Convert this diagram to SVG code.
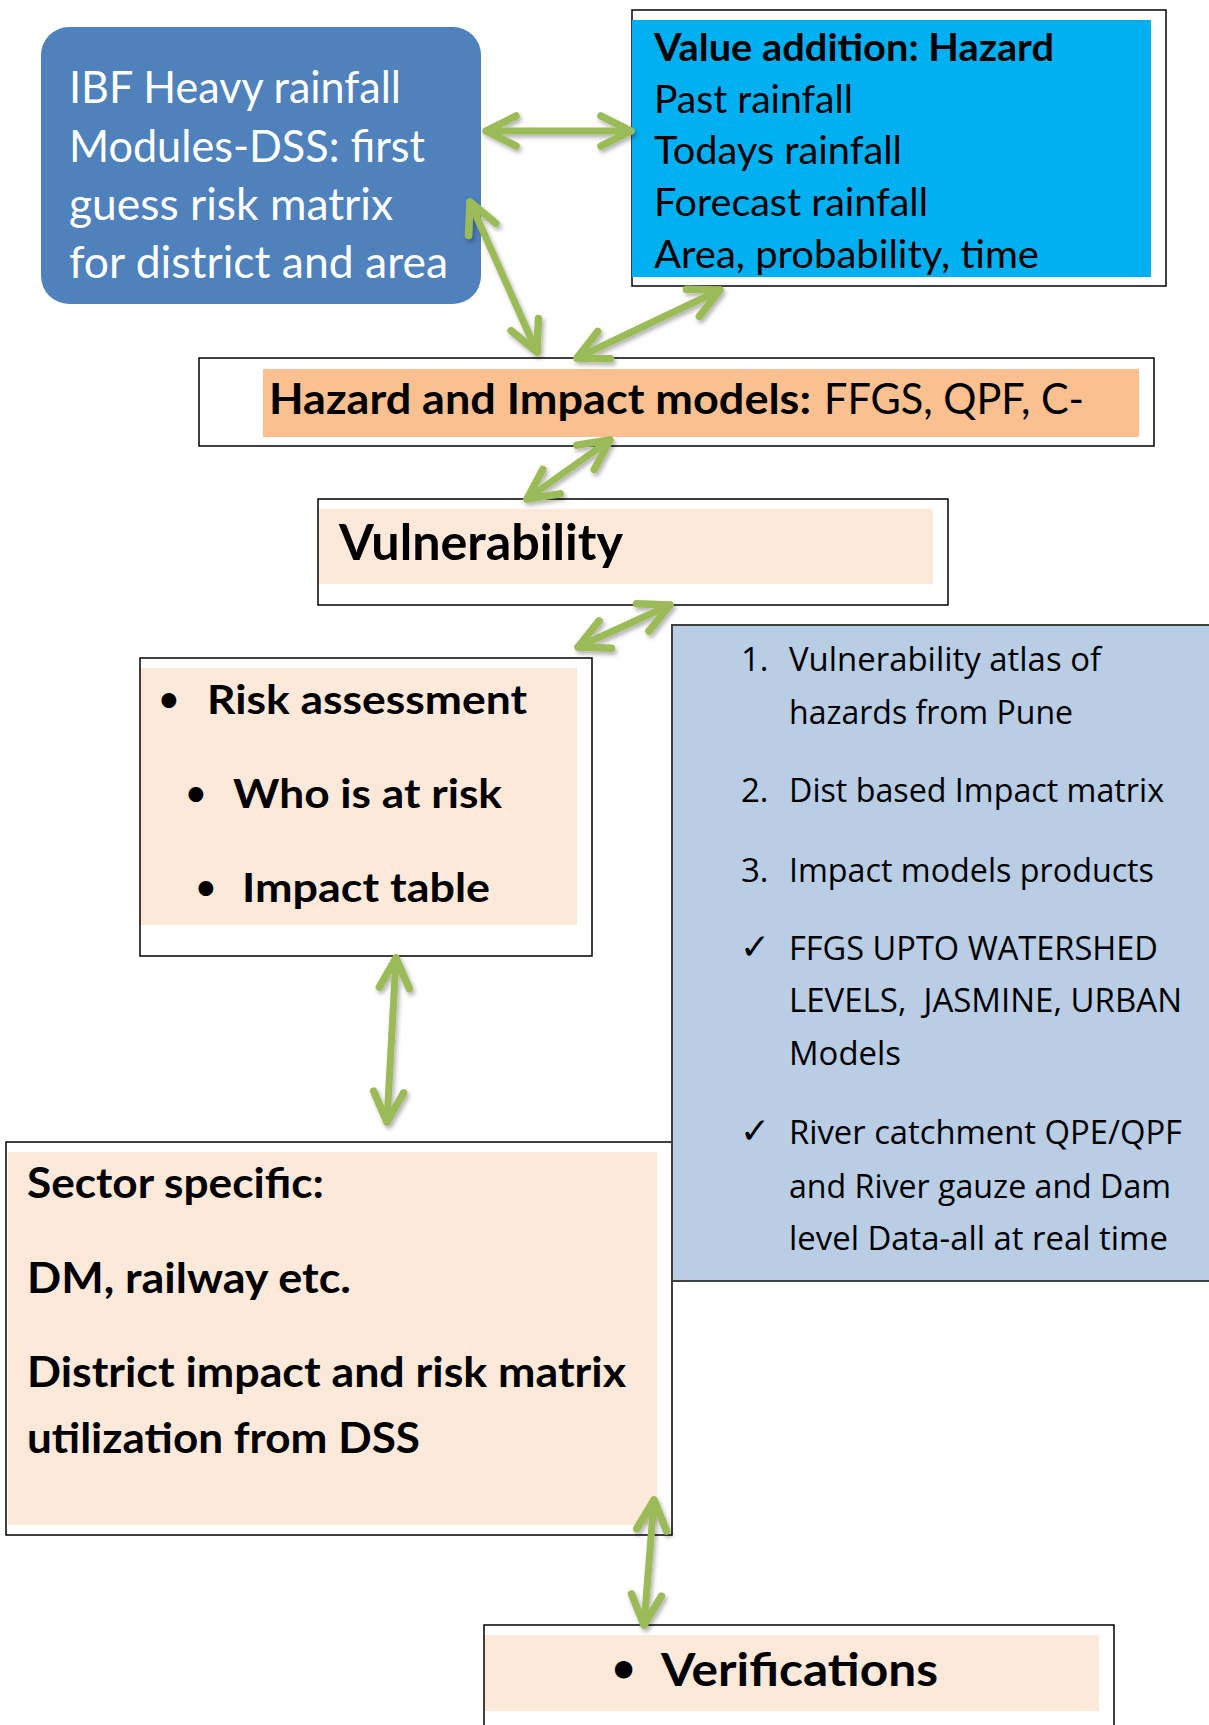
<svg xmlns="http://www.w3.org/2000/svg" width="1209" height="1725" viewBox="0 0 1209 1725">
<style>
.w{font-family:Lato,"Liberation Sans",sans-serif;fill:#fff}
.k{font-family:Lato,"Liberation Sans",sans-serif;fill:#000}
.b{font-weight:bold}
.p{font-family:"Open Sans","Liberation Sans",sans-serif;fill:#000;font-size:33px}
.chk{font-family:"DejaVu Sans",sans-serif;fill:#000;font-size:36px}
.box{fill:#fff;stroke:#000;stroke-width:1.5}
.peach{fill:#FDE9D9}
.conn{stroke:#9BBB59;stroke-width:7;fill:none;stroke-linecap:round;marker-start:url(#head);marker-end:url(#head)}
</style>
<defs>
<marker id="head" orient="auto-start-reverse" markerUnits="userSpaceOnUse" viewBox="-40 -20 44 40" markerWidth="44" markerHeight="40" refX="0" refY="0" overflow="visible">
<path d="M -30 -15 L 0 0 L -30 15" fill="none" stroke="#9BBB59" stroke-width="7.5" stroke-linecap="round" stroke-linejoin="round"/>
</marker>
<filter id="sh" x="-20%" y="-20%" width="140%" height="140%">
<feDropShadow dx="2" dy="3" stdDeviation="2" flood-color="#000" flood-opacity="0.3"/>
</filter>
</defs>
<rect width="1209" height="1725" fill="#fff"/>

<g id="ibf">
<rect x="41" y="27" width="440" height="277" rx="28" ry="28" fill="#4F81BD"/>
<text class="w" font-size="44" x="69" y="103" textLength="332" lengthAdjust="spacingAndGlyphs">IBF Heavy rainfall</text>
<text class="w" font-size="44" x="69" y="162" textLength="356" lengthAdjust="spacingAndGlyphs">Modules-DSS: first</text>
<text class="w" font-size="44" x="69" y="220" textLength="324" lengthAdjust="spacingAndGlyphs">guess risk matrix</text>
<text class="w" font-size="44" x="69" y="278" textLength="379" lengthAdjust="spacingAndGlyphs">for district and area</text>
</g>

<g id="value-addition">
<rect class="box" x="632" y="10" width="534" height="276"/>
<rect x="632" y="20" width="519" height="257" fill="#00B0F0"/>
<text class="k b" font-size="38" x="654" y="61" textLength="400" lengthAdjust="spacingAndGlyphs">Value addition: Hazard</text>
<text class="k" font-size="38" x="654" y="113" textLength="199" lengthAdjust="spacingAndGlyphs">Past rainfall</text>
<text class="k" font-size="38" x="654" y="164" textLength="248" lengthAdjust="spacingAndGlyphs">Todays rainfall</text>
<text class="k" font-size="38" x="654" y="216" textLength="274" lengthAdjust="spacingAndGlyphs">Forecast rainfall</text>
<text class="k" font-size="38" x="654" y="268" textLength="385" lengthAdjust="spacingAndGlyphs">Area, probability, time</text>
</g>

<g id="hazard-models">
<rect class="box" x="199" y="358" width="955" height="88"/>
<rect x="263" y="369" width="876" height="68" fill="#FAC090"/>
<text class="k b" font-size="42" x="269" y="414" textLength="542" lengthAdjust="spacingAndGlyphs">Hazard and Impact models:</text>
<text class="k" font-size="42" x="824" y="414" textLength="260" lengthAdjust="spacingAndGlyphs">FFGS, QPF, C-</text>
</g>

<g id="vulnerability">
<rect class="box" x="318" y="499" width="630" height="106"/>
<rect class="peach" x="319" y="509" width="614" height="75"/>
<text class="k b" font-size="49" x="339" y="560" textLength="284" lengthAdjust="spacingAndGlyphs">Vulnerability</text>
</g>

<g id="risk">
<rect class="box" x="140" y="658" width="452" height="298"/>
<rect class="peach" x="141" y="668" width="436" height="257"/>
<text class="k b" font-size="34" x="159" y="711">•</text>
<text class="k b" font-size="40" x="207" y="714" textLength="320" lengthAdjust="spacingAndGlyphs">Risk assessment</text>
<text class="k b" font-size="34" x="186" y="805">•</text>
<text class="k b" font-size="40" x="233" y="808" textLength="269" lengthAdjust="spacingAndGlyphs">Who is at risk</text>
<text class="k b" font-size="34" x="196" y="899">•</text>
<text class="k b" font-size="40" x="242" y="902" textLength="248" lengthAdjust="spacingAndGlyphs">Impact table</text>
</g>

<g id="sector">
<rect class="box" x="6" y="1142" width="666" height="393"/>
<rect class="peach" x="8" y="1152" width="649" height="373"/>
<text class="k b" font-size="42" x="27" y="1198" textLength="297" lengthAdjust="spacingAndGlyphs">Sector specific:</text>
<text class="k b" font-size="42" x="27" y="1293" textLength="324" lengthAdjust="spacingAndGlyphs">DM, railway etc.</text>
<text class="k b" font-size="42" x="27" y="1387" textLength="599" lengthAdjust="spacingAndGlyphs">District impact and risk matrix</text>
<text class="k b" font-size="42" x="27" y="1453" textLength="393" lengthAdjust="spacingAndGlyphs">utilization from DSS</text>
</g>

<g id="products">
<rect x="672" y="625" width="540" height="656" fill="#B9CDE5" stroke="#404040" stroke-width="2"/>
<text class="p" x="741" y="671">1.</text>
<text class="p" x="789" y="671" textLength="312" lengthAdjust="spacingAndGlyphs">Vulnerability atlas of</text>
<text class="p" x="789" y="724" textLength="284" lengthAdjust="spacingAndGlyphs">hazards from Pune</text>
<text class="p" x="741" y="802">2.</text>
<text class="p" x="789" y="802" textLength="375" lengthAdjust="spacingAndGlyphs">Dist based Impact matrix</text>
<text class="p" x="741" y="882">3.</text>
<text class="p" x="789" y="882" textLength="365" lengthAdjust="spacingAndGlyphs">Impact models products</text>
<text class="chk" x="740" y="959">✓</text>
<text class="p" x="789" y="960" textLength="369" lengthAdjust="spacingAndGlyphs">FFGS UPTO WATERSHED</text>
<text class="p" x="789" y="1012" textLength="393" lengthAdjust="spacingAndGlyphs">LEVELS,&#160; JASMINE, URBAN</text>
<text class="p" x="789" y="1065" textLength="112" lengthAdjust="spacingAndGlyphs">Models</text>
<text class="chk" x="740" y="1143">✓</text>
<text class="p" x="789" y="1144" textLength="393" lengthAdjust="spacingAndGlyphs">River catchment QPE/QPF</text>
<text class="p" x="789" y="1198" textLength="382" lengthAdjust="spacingAndGlyphs">and River gauze and Dam</text>
<text class="p" x="789" y="1250" textLength="379" lengthAdjust="spacingAndGlyphs">level Data-all at real time</text>
</g>

<g id="verifications">
<rect class="box" x="484" y="1625" width="630" height="120"/>
<rect class="peach" x="485" y="1635" width="614" height="76"/>
<text class="k b" font-size="40" x="612" y="1682">•</text>
<text class="k b" font-size="46" x="661" y="1686" textLength="277" lengthAdjust="spacingAndGlyphs">Verifications</text>
</g>

<g id="connectors" filter="url(#sh)">
<line class="conn" x1="486" y1="131" x2="631" y2="131"/>
<line class="conn" x1="470" y1="202" x2="537" y2="352"/>
<line class="conn" x1="577" y1="358" x2="720" y2="290"/>
<line class="conn" x1="610" y1="440" x2="527" y2="499"/>
<line class="conn" x1="670" y1="605" x2="578" y2="647"/>
<line class="conn" x1="396" y1="958" x2="387" y2="1122"/>
<line class="conn" x1="654" y1="1500" x2="644" y2="1625"/>
</g>
</svg>
